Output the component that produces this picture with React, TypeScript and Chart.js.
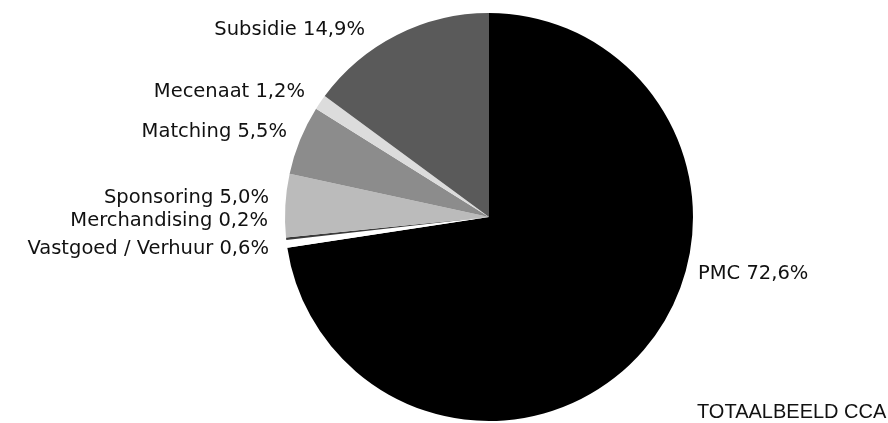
import React, { useEffect, useRef } from "react";
import { Chart, registerables } from "chart.js";

Chart.register(...registerables);

const categories = [
  "PMC",
  "Vastgoed / Verhuur",
  "Merchandising",
  "Sponsoring",
  "Matching",
  "Mecenaat",
  "Subsidie",
];
const values = [72.6, 0.6, 0.2, 5.0, 5.5, 1.2, 14.9];
const colors = ["#000000", "#ffffff", "#3a3a3a", "#bbbbbb", "#8c8c8c", "#dcdcdc", "#5a5a5a"];
const title = "TOTAALBEELD CCA";

// label anchor layout: [x, y, align]
const labelLayout: [number, number, CanvasTextAlign][] = [
  [698, 274, "left"],
  [269, 249, "right"],
  [268, 221, "right"],
  [269, 198, "right"],
  [287, 132, "right"],
  [305, 92, "right"],
  [365, 30, "right"],
];

const fmt = (v: number) => v.toFixed(1).replace(".", ",") + "%";

const labelPlugin = {
  id: "sliceLabels",
  afterDraw(chart: any) {
    const ctx = chart.ctx;
    ctx.save();
    ctx.fillStyle = "#111111";
    ctx.textBaseline = "middle";
    ctx.font = '19.5px "DejaVu Sans", sans-serif';
    categories.forEach((c, i) => {
      const [x, y, align] = labelLayout[i];
      ctx.textAlign = align;
      ctx.fillText(`${c} ${fmt(values[i])}`, x, y);
    });
    ctx.font = '20px "Liberation Sans", Arial, sans-serif';
    ctx.textAlign = "left";
    ctx.fillText(title, 697, 412);
    ctx.restore();
  },
};

export default function App() {
  const ref = useRef<HTMLCanvasElement | null>(null);
  useEffect(() => {
    if (!ref.current) return;
    const chart = new Chart(ref.current, {
      type: "pie",
      data: {
        labels: categories,
        datasets: [
          {
            data: values,
            backgroundColor: colors,
            borderWidth: 0,
          },
        ],
      },
      options: {
        responsive: false,
        animation: false,
        layout: { padding: { left: 285, right: 195, top: 13, bottom: 2 } },
        plugins: {
          legend: { display: false },
          tooltip: { enabled: false },
          title: { display: false },
        },
      },
      plugins: [labelPlugin],
    });
    return () => chart.destroy();
  }, []);
  return (
    <div style={{ position: "absolute", left: 0, top: 0, width: 888, height: 423, background: "#fff" }}>
      <canvas ref={ref} width={888} height={423} style={{ width: 888, height: 423 }} />
    </div>
  );
}
